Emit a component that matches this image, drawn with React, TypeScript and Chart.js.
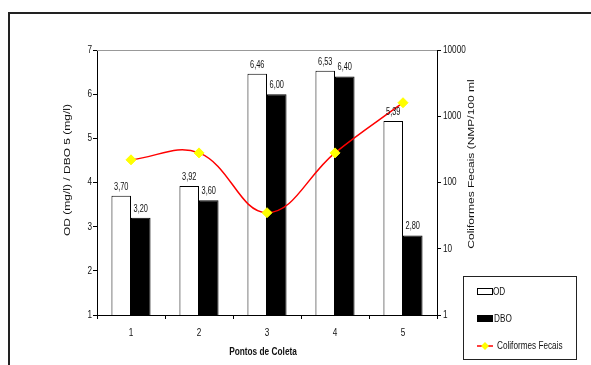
import React, { useEffect, useRef } from "react";
import { Chart, registerables } from "chart.js";

Chart.register(...registerables);

const categories = ["1", "2", "3", "4", "5"];
const odValues = [3.7, 3.92, 6.46, 6.53, 5.39];
const dboValues = [3.2, 3.6, 6.0, 6.4, 2.8];
const coliformValues = [220, 280, 35, 280, 1600];
const leftTicks = [1, 2, 3, 4, 5, 6, 7];
const rightTicks = [1, 10, 100, 1000, 10000];

const FONT = '"Liberation Sans", Arial, sans-serif';
const SX = 0.78;

const fmt = (v: number) => v.toFixed(2).replace(".", ",");

const squeezeText = (
  ctx: CanvasRenderingContext2D,
  text: string,
  x: number,
  y: number,
  align: CanvasTextAlign,
  baseline: CanvasTextBaseline,
  font: string,
  sx = SX
) => {
  ctx.save();
  ctx.font = font;
  ctx.textAlign = align;
  ctx.textBaseline = baseline;
  ctx.translate(x, y);
  ctx.scale(sx, 1);
  ctx.fillText(text, 0, 0);
  ctx.restore();
};

const verticalText = (
  ctx: CanvasRenderingContext2D,
  text: string,
  x: number,
  y: number,
  font: string
) => {
  ctx.save();
  ctx.font = font;
  ctx.textAlign = "center";
  ctx.textBaseline = "middle";
  ctx.translate(x, y);
  ctx.rotate(-Math.PI / 2);
  ctx.scale(1, SX);
  ctx.fillText(text, 0, 0);
  ctx.restore();
};

const drawDiamond = (ctx: CanvasRenderingContext2D, x: number, y: number, r: number) => {
  ctx.beginPath();
  ctx.moveTo(x, y - r);
  ctx.lineTo(x + r, y);
  ctx.lineTo(x, y + r);
  ctx.lineTo(x - r, y);
  ctx.closePath();
  ctx.fill();
};

const decorPlugin = {
  id: "decor",
  beforeDraw(chart: any) {
    const ctx = chart.ctx as CanvasRenderingContext2D;
    ctx.save();
    ctx.fillStyle = "#fff";
    ctx.fillRect(0, 0, chart.width, chart.height);
    ctx.restore();
  },
  afterDatasetsDraw(chart: any) {
    const ctx = chart.ctx as CanvasRenderingContext2D;
    ctx.save();
    ctx.fillStyle = "#111";
    [0, 1].forEach((di) => {
      const meta = chart.getDatasetMeta(di);
      const vals = chart.data.datasets[di].data as number[];
      meta.data.forEach((el: any, i: number) => {
        squeezeText(ctx, fmt(vals[i]), el.x, el.y - 4, "center", "bottom", `10px ${FONT}`, 0.74);
      });
    });
    ctx.restore();
  },
  afterDraw(chart: any) {
    const ctx = chart.ctx as CanvasRenderingContext2D;
    const a = chart.chartArea;
    const sy = chart.scales.y;
    const sy1 = chart.scales.y1;
    const sxs = chart.scales.x;
    ctx.save();
    // top border of plot
    ctx.strokeStyle = "#999";
    ctx.lineWidth = 1;
    ctx.beginPath();
    ctx.moveTo(a.left, a.top + 0.5);
    ctx.lineTo(a.right, a.top + 0.5);
    ctx.stroke();

    // outer frame
    ctx.strokeStyle = "#222";
    ctx.lineWidth = 2;
    ctx.beginPath();
    ctx.moveTo(9, chart.height + 5);
    ctx.lineTo(9, 13);
    ctx.lineTo(chart.width + 5, 13);
    ctx.stroke();

    // tick labels
    ctx.fillStyle = "#111";
    const tickFont = `10.5px ${FONT}`;
    leftTicks.forEach((v) => {
      squeezeText(ctx, String(v), a.left - 5, sy.getPixelForValue(v), "right", "middle", tickFont);
    });
    rightTicks.forEach((v) => {
      squeezeText(ctx, String(v), a.right + 6, sy1.getPixelForValue(v), "left", "middle", tickFont);
    });
    categories.forEach((c, i) => {
      squeezeText(ctx, c, sxs.getPixelForValue(i), a.bottom + 18, "center", "middle", tickFont);
    });

    // axis titles
    verticalText(ctx, "OD (mg/l) / DBO 5 (mg/l)", 67, 170, `12px ${FONT}`);
    verticalText(ctx, "Coliformes Fecais (NMP/100 ml", 471, 164, `12px ${FONT}`);
    squeezeText(ctx, "Pontos de Coleta", 263, 352, "center", "middle", `bold 10.5px ${FONT}`, 0.79);

    // legend
    ctx.strokeStyle = "#222";
    ctx.lineWidth = 1;
    ctx.strokeRect(463.5, 276.5, 113, 83);
    ctx.strokeStyle = "#000";
    ctx.fillStyle = "#fff";
    ctx.fillRect(477.5, 288.5, 15, 6);
    ctx.strokeRect(477.5, 288.5, 15, 6);
    ctx.fillStyle = "#000";
    ctx.fillRect(477, 315, 16, 7);
    ctx.strokeStyle = "#ff0000";
    ctx.lineWidth = 1.5;
    ctx.beginPath();
    ctx.moveTo(477, 346);
    ctx.lineTo(493, 346);
    ctx.stroke();
    ctx.fillStyle = "#ffff00";
    drawDiamond(ctx, 485, 346, 4);

    ctx.fillStyle = "#111";
    const legFont = `10.5px ${FONT}`;
    squeezeText(ctx, "OD", 493, 292, "left", "middle", legFont);
    squeezeText(ctx, "DBO", 494, 319, "left", "middle", legFont);
    squeezeText(ctx, "Coliformes Fecais", 497, 346, "left", "middle", legFont);
    ctx.restore();
  },
};

export default function App() {
  const ref = useRef<HTMLCanvasElement | null>(null);
  useEffect(() => {
    if (!ref.current) return;
    const hidden = { color: "rgba(0,0,0,0)", font: { family: FONT, size: 10 }, padding: 2 };
    const chart = new Chart(ref.current, {
      type: "bar",
      data: {
        labels: categories,
        datasets: [
          {
            label: "OD",
            data: odValues,
            backgroundColor: "#ffffff",
            borderColor: "#000000",
            borderWidth: 1,
            yAxisID: "y",
            order: 1,
            categoryPercentage: 0.575,
            barPercentage: 1,
          } as any,
          {
            label: "DBO",
            data: dboValues,
            backgroundColor: "#000000",
            borderColor: "#000000",
            borderWidth: 1,
            yAxisID: "y",
            order: 1,
            categoryPercentage: 0.575,
            barPercentage: 1,
          } as any,
          {
            type: "line",
            label: "Coliformes Fecais",
            data: coliformValues,
            yAxisID: "y1",
            borderColor: "#ff0000",
            borderWidth: 1.5,
            tension: 0.4,
            pointStyle: "rectRot",
            pointRadius: 5,
            pointBackgroundColor: "#ffff00",
            pointBorderColor: "#ffff00",
            pointBorderWidth: 1,
            order: 0,
          } as any,
        ],
      },
      options: {
        animation: false,
        responsive: false,
        devicePixelRatio: 1,
        layout: { padding: { top: 50, left: 0, right: 0, bottom: 0 } },
        plugins: {
          legend: { display: false },
          tooltip: { enabled: false },
          title: { display: false },
        },
        scales: {
          x: {
            offset: true,
            grid: {
              display: true,
              offset: true,
              drawOnChartArea: false,
              drawTicks: true,
              tickLength: 4,
              color: "#000",
            },
            border: { display: true, color: "#000", width: 1 },
            ticks: hidden,
            afterFit: (s: any) => {
              s.height = 50;
            },
          },
          y: {
            position: "left",
            min: 1,
            max: 7,
            grid: {
              display: true,
              drawOnChartArea: false,
              drawTicks: true,
              tickLength: 4,
              color: "#000",
            },
            border: { display: true, color: "#000", width: 1 },
            afterBuildTicks: (s: any) => {
              s.ticks = leftTicks.map((v) => ({ value: v }));
            },
            ticks: { ...hidden, callback: (v: any) => String(v) },
            afterFit: (s: any) => {
              s.width = 97;
            },
          },
          y1: {
            type: "logarithmic",
            position: "right",
            min: 1,
            max: 10000,
            grid: {
              display: true,
              drawOnChartArea: false,
              drawTicks: true,
              tickLength: 4,
              color: "#000",
            },
            border: { display: true, color: "#000", width: 1 },
            afterBuildTicks: (s: any) => {
              s.ticks = rightTicks.map((v) => ({ value: v }));
            },
            ticks: { ...hidden, callback: (v: any) => String(v) },
            afterFit: (s: any) => {
              s.width = 154;
            },
          },
        },
      } as any,
      plugins: [decorPlugin],
    });
    return () => chart.destroy();
  }, []);
  return (
    <div style={{ position: "fixed", left: 0, top: 0, width: 591, height: 365 }}>
      <canvas ref={ref} width={591} height={365} style={{ display: "block" }} />
    </div>
  );
}
